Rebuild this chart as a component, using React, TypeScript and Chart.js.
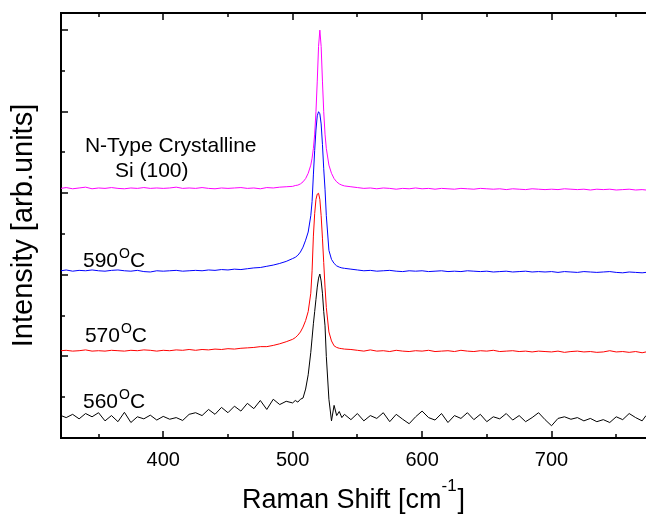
import React, { useEffect, useRef } from "react";
import { Chart, registerables } from "chart.js";

Chart.register(...registerables);

// Raman shift (cm^-1) sample positions shared by all spectra
const RAMAN_SHIFT = [
  321, 325, 330, 335, 340, 345, 350, 355, 360, 365,
  370, 375, 380, 385, 390, 395, 400, 405, 410, 415,
  420, 425, 430, 435, 440, 445, 450, 455, 460, 465,
  470, 475, 480, 485, 490, 495, 500,
  502, 504, 506, 508, 510, 512, 514, 515, 516, 517,
  518, 519, 520, 521, 522, 523, 524, 525, 526, 528,
  530, 532, 534, 536, 538, 540,
  545, 550, 555, 560, 565, 570, 575, 580, 585, 590,
  595, 600, 605, 610, 615, 620, 625, 630, 635, 640,
  645, 650, 655, 660, 665, 670, 675, 680, 685, 690,
  695, 700, 705, 710, 715, 720, 725, 730, 735, 740,
  745, 750, 755, 760, 765, 770, 773,
];

// N-Type Crystalline Si (100) (magenta), offset
const SI_100 = [
  6.12, 6.14, 6.11, 6.13, 6.15, 6.11, 6.13, 6.12, 6.14, 6.12,
  6.11, 6.13, 6.12, 6.14, 6.12, 6.13, 6.12, 6.13, 6.15, 6.12,
  6.13, 6.12, 6.14, 6.12, 6.11, 6.13, 6.12, 6.13, 6.14, 6.12,
  6.13, 6.11, 6.14, 6.13, 6.15, 6.16, 6.17,
  6.19, 6.2, 6.23, 6.28, 6.36, 6.49, 6.69, 6.86, 7.1, 7.45,
  8.0, 8.75, 9.6, 10.0, 9.6, 8.75, 8.0, 7.45, 7.1, 6.69,
  6.49, 6.36, 6.28, 6.23, 6.2, 6.18,
  6.16, 6.14, 6.12, 6.13, 6.11, 6.13, 6.12, 6.1, 6.12, 6.11,
  6.13, 6.11, 6.12, 6.1, 6.12, 6.11, 6.1, 6.12, 6.11, 6.1,
  6.12, 6.11, 6.1, 6.11, 6.09, 6.11, 6.1, 6.09, 6.11, 6.1,
  6.09, 6.1, 6.09, 6.11, 6.1, 6.09, 6.1, 6.08, 6.1, 6.09,
  6.1, 6.08, 6.09, 6.1, 6.08, 6.09, 6.08,
];

// 590 °C (blue), offset
const T590 = [
  4.1, 4.12, 4.09, 4.11, 4.1, 4.12, 4.1, 4.09, 4.11, 4.12,
  4.1, 4.09, 4.11, 4.08, 4.07, 4.1, 4.09, 4.1, 4.11, 4.09,
  4.1, 4.11, 4.1, 4.12, 4.11, 4.13, 4.12, 4.14, 4.13, 4.15,
  4.17, 4.18, 4.21, 4.24, 4.28, 4.33, 4.4,
  4.43, 4.48, 4.56, 4.68, 4.85, 5.05, 5.45, 5.8, 6.45, 7.05,
  7.55, 7.9, 8.0, 7.95, 7.7, 7.2, 6.6, 6.1, 5.45, 4.6,
  4.38, 4.28, 4.22, 4.19, 4.17, 4.16,
  4.14, 4.12, 4.1, 4.11, 4.09, 4.1, 4.11, 4.09, 4.08, 4.1,
  4.09, 4.1, 4.08, 4.09, 4.1, 4.08, 4.09, 4.08, 4.1, 4.09,
  4.08, 4.09, 4.07, 4.08, 4.09, 4.07, 4.08, 4.09, 4.07, 4.08,
  4.07, 4.08, 4.06, 4.08, 4.07, 4.06, 4.08, 4.07, 4.06, 4.07,
  4.08, 4.06, 4.05, 4.07, 4.06, 4.05, 4.06,
];

// 570 °C (red), offset
const T570 = [
  2.14, 2.15, 2.13, 2.14, 2.16, 2.13, 2.14, 2.13, 2.15, 2.14,
  2.13, 2.15, 2.14, 2.16, 2.15, 2.13, 2.15, 2.14, 2.16, 2.15,
  2.17, 2.15, 2.17, 2.16, 2.18, 2.17, 2.19, 2.18, 2.2, 2.21,
  2.22, 2.24, 2.24, 2.27, 2.31, 2.36, 2.42,
  2.46, 2.52, 2.6, 2.72, 2.88, 3.1, 3.55, 4.1, 4.95, 5.5,
  5.85, 5.98, 6.0, 5.85, 5.45, 4.9, 4.3, 3.7, 3.2, 2.6,
  2.38, 2.26, 2.22, 2.2, 2.19, 2.18,
  2.17, 2.15, 2.13, 2.16, 2.13, 2.14, 2.12, 2.15, 2.13, 2.12,
  2.14, 2.13, 2.15, 2.12, 2.13, 2.14, 2.12, 2.15, 2.13, 2.12,
  2.14, 2.13, 2.15, 2.12, 2.13, 2.14, 2.12, 2.13, 2.11, 2.13,
  2.12, 2.11, 2.13, 2.1, 2.12, 2.13, 2.11, 2.12, 2.1, 2.11,
  2.14, 2.11, 2.12, 2.1, 2.12, 2.09, 2.11,
];

// 560 °C (black), offset
const T560 = [
  0.55, 0.5, 0.58, 0.47, 0.6, 0.52, 0.62, 0.42, 0.55, 0.4,
  0.63, 0.38, 0.52, 0.47, 0.56, 0.44, 0.53, 0.46, 0.5, 0.43,
  0.58, 0.62, 0.55, 0.7, 0.58, 0.75, 0.62, 0.78, 0.66, 0.85,
  0.72, 0.92, 0.7, 0.95, 0.82, 0.9, 0.86,
  0.92, 0.88, 0.95, 0.98, 1.2, 1.55, 2.1, 2.45, 2.8, 3.1,
  3.4, 3.7, 3.92, 4.02, 3.85, 3.55, 3.1, 2.75, 2.0, 0.95,
  0.42, 0.8, 0.55, 0.65, 0.5, 0.58,
  0.45, 0.6, 0.42, 0.55, 0.48, 0.62, 0.4, 0.58, 0.46, 0.35,
  0.52, 0.66, 0.5, 0.44, 0.6, 0.38, 0.55, 0.48, 0.62, 0.45,
  0.58, 0.4, 0.52, 0.47, 0.6, 0.44, 0.55, 0.4, 0.5, 0.62,
  0.45, 0.3, 0.48, 0.52, 0.46, 0.5, 0.42, 0.48, 0.4, 0.45,
  0.38, 0.52, 0.45, 0.6, 0.5, 0.42, 0.55,
];

const SERIES_COLORS = ["#000000", "#ff0000", "#0000ff", "#ff00ff"];
const X_TICKS = [350, 400, 450, 500, 550, 600, 650, 700, 750];
const X_TICK_LABELS = [400, 500, 600, 700];
const Y_TICKS = [0, 1, 2, 3, 4, 5, 6, 7, 8, 9, 10];
const X_RANGE = [321, 773];
const Y_RANGE = [0, 10.42];

const FONT = '"Liberation Sans", Arial, Helvetica, sans-serif';

// in-plot text annotations (data coordinates of the text baseline start)
const ANNOTATIONS = [
  { text: "N-Type Crystalline", sup: "", tail: "", x: 339.5, y: 7.01 },
  { text: "Si (100)", sup: "", tail: "", x: 362.7, y: 6.4 },
  { text: "590", sup: "O", tail: "C", x: 338, y: 4.19 },
  { text: "570", sup: "O", tail: "C", x: 339.5, y: 2.35 },
  { text: "560", sup: "O", tail: "C", x: 338, y: 0.74 },
];

const decorPlugin = {
  id: "decor",
  afterDraw(chart: any) {
    const { ctx, chartArea: a, scales } = chart;
    const xs = scales.x;
    const ys = scales.y;
    ctx.save();
    ctx.strokeStyle = "#000";
    ctx.lineWidth = 2;
    ctx.beginPath();
    ctx.moveTo(a.left - 1, a.top);
    ctx.lineTo(a.right, a.top);
    ctx.stroke();

    ctx.lineWidth = 1.5;
    xs.ticks.forEach((t: any) => {
      const px = Math.round(xs.getPixelForValue(t.value));
      const len = t.value % 100 === 0 ? 7 : 4;
      ctx.beginPath();
      ctx.moveTo(px, a.bottom);
      ctx.lineTo(px, a.bottom - len);
      ctx.moveTo(px, a.top);
      ctx.lineTo(px, a.top + len);
      ctx.stroke();
    });
    ys.ticks.forEach((t: any) => {
      if (t.value === 0) return;
      const py = Math.round(ys.getPixelForValue(t.value));
      const len = t.value % 2 === 0 ? 7 : 4;
      ctx.beginPath();
      ctx.moveTo(a.left, py);
      ctx.lineTo(a.left + len, py);
      ctx.stroke();
    });

    // annotations
    ctx.fillStyle = "#000";
    ctx.textBaseline = "alphabetic";
    ctx.textAlign = "left";
    ANNOTATIONS.forEach((n) => {
      let x = xs.getPixelForValue(n.x);
      const y = ys.getPixelForValue(n.y);
      ctx.font = `21px ${FONT}`;
      ctx.fillText(n.text, x, y);
      x += ctx.measureText(n.text).width;
      if (n.sup) {
        ctx.font = `14px ${FONT}`;
        ctx.fillText(n.sup, x + 1, y - 9);
        x += ctx.measureText(n.sup).width + 1;
      }
      if (n.tail) {
        ctx.font = `21px ${FONT}`;
        ctx.fillText(n.tail, x, y);
      }
    });

    // x-axis title with superscript
    const main = "Raman Shift [cm";
    const sup = "-1";
    const tail = "]";
    ctx.font = `27px ${FONT}`;
    const w1 = ctx.measureText(main).width;
    const w3 = ctx.measureText(tail).width;
    ctx.font = `17px ${FONT}`;
    const w2 = ctx.measureText(sup).width;
    const total = w1 + w2 + w3 + 1;
    let tx = (a.left + a.right) / 2 - total / 2;
    const ty = a.bottom + 70;
    ctx.font = `27px ${FONT}`;
    ctx.fillText(main, tx, ty);
    tx += w1;
    ctx.font = `17px ${FONT}`;
    ctx.fillText(sup, tx, ty - 17);
    tx += w2 + 1;
    ctx.font = `27px ${FONT}`;
    ctx.fillText(tail, tx, ty);
    ctx.restore();
  },
};

export default function App() {
  const ref = useRef<HTMLCanvasElement | null>(null);

  useEffect(() => {
    if (!ref.current) return;
    const series = [T560, T570, T590, SI_100];
    const labels = ["560°C", "570°C", "590°C", "N-Type Crystalline Si (100)"];
    const chart = new Chart(ref.current, {
      type: "line",
      data: {
        datasets: series.map((vals, i) => ({
          label: labels[i],
          data: RAMAN_SHIFT.map((x, j) => ({ x, y: vals[j] })),
          borderColor: SERIES_COLORS[i],
          borderWidth: 1,
          pointRadius: 0,
          tension: 0,
          fill: false,
        })),
      },
      options: {
        animation: false,
        responsive: false,
        devicePixelRatio: 1,
        layout: { padding: { top: 13, right: 0, left: 0, bottom: 0 } },
        plugins: { legend: { display: false }, tooltip: { enabled: false } },
        scales: {
          x: {
            type: "linear",
            position: "bottom",
            min: X_RANGE[0],
            max: X_RANGE[1],
            grid: { display: false, drawTicks: false },
            border: { display: true, color: "#000", width: 2 },
            ticks: {
              autoSkip: false,
              maxRotation: 0,
              padding: 10,
              color: "#000",
              font: { family: FONT, size: 20 },
              callback: (v: any) => (X_TICK_LABELS.includes(Number(v)) ? String(v) : ""),
            },
            afterBuildTicks: (s: any) => {
              s.ticks = X_TICKS.map((value) => ({ value }));
            },
            afterFit: (s: any) => {
              s.height = 76;
              s.paddingLeft = 0;
              s.paddingRight = 0;
            },
          },
          y: {
            type: "linear",
            position: "left",
            min: Y_RANGE[0],
            max: Y_RANGE[1],
            grid: { display: false, drawTicks: false },
            border: { display: true, color: "#000", width: 2 },
            ticks: { display: false },
            afterBuildTicks: (s: any) => {
              s.ticks = Y_TICKS.map((value) => ({ value }));
            },
            title: {
              display: true,
              text: "Intensity [arb.units]",
              color: "#000",
              font: { family: FONT, size: 29 },
              padding: { top: 7, bottom: 0 },
            },
            afterFit: (s: any) => {
              s.width = 61;
              s.paddingTop = 0;
              s.paddingBottom = 0;
            },
          },
        },
      },
      plugins: [decorPlugin],
    });
    return () => chart.destroy();
  }, []);

  return (
    <div style={{ position: "fixed", left: 0, top: 0, width: 646, height: 514, background: "#fff" }}>
      <canvas ref={ref} width={646} height={514} style={{ display: "block" }} />
    </div>
  );
}
